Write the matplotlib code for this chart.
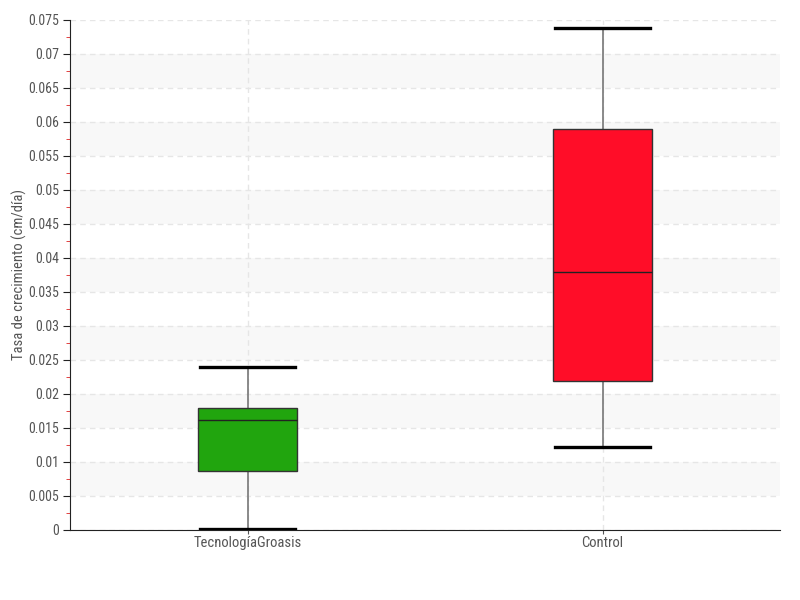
import numpy as np
import matplotlib
matplotlib.use('Agg')
import matplotlib.pyplot as plt
from matplotlib.ticker import MultipleLocator

categories = ['TecnologíaGroasis', 'Control']
whislo = [0.0002, 0.0122]
q1 = [0.0087, 0.0219]
medians = [0.0162, 0.0379]
q3 = [0.0179, 0.0590]
whishi = [0.0240, 0.0738]
colors = ['#21a50e', '#ff0d28']

plt.rcParams['font.family'] = ['Roboto Condensed', 'Roboto', 'DejaVu Sans']

fig = plt.figure(figsize=(8, 6), dpi=100)
ax = fig.add_axes([0.0875, 0.1167, 0.8875, 0.85])

# alternating horizontal bands
for y0 in np.arange(0.005, 0.075, 0.01):
    ax.axhspan(y0, y0 + 0.005, color='#f8f8f8', zorder=0, lw=0)

stats = []
for i, name in enumerate(categories):
    stats.append({'label': name, 'whislo': whislo[i], 'q1': q1[i], 'med': medians[i],
                  'q3': q3[i], 'whishi': whishi[i], 'fliers': []})

bp = ax.bxp(stats, positions=[0, 1], widths=0.28, patch_artist=True, showfliers=False,
            boxprops=dict(edgecolor='#333333', linewidth=1),
            medianprops=dict(color='#222222', linewidth=1),
            whiskerprops=dict(color='#777777', linewidth=1.2),
            capprops=dict(color='black', linewidth=2.4), capwidths=0.27)
for patch, c in zip(bp['boxes'], colors):
    patch.set_facecolor(c)
    patch.set_zorder(3)
for m in bp['medians']:
    m.set_zorder(4)

ax.set_xlim(-0.5, 1.5)
ax.set_ylim(0, 0.075)
ax.yaxis.set_major_locator(MultipleLocator(0.005))
ax.yaxis.set_minor_locator(MultipleLocator(0.0025))
ax.yaxis.set_major_formatter(plt.FuncFormatter(lambda v, p: ('%.3f' % v).rstrip('0').rstrip('.') if v else '0'))
ax.grid(True, which='major', axis='both', linestyle=(0, (4, 3)), color='#e6e6e6', linewidth=1, zorder=1)
ax.set_axisbelow(True)

for s in ['top', 'right']:
    ax.spines[s].set_visible(False)
ax.spines['left'].set_color('#222222')
ax.spines['bottom'].set_color('#222222')

ax.tick_params(axis='y', which='major', length=5, color='#222222', labelcolor='#555555', labelsize=10, pad=3)
ax.tick_params(axis='y', which='minor', length=3, color='#dd2222')
ax.tick_params(axis='x', length=3, color='#555555', labelcolor='#555555', labelsize=10.5, pad=1)

ax.set_ylabel('Tasa de crecimiento (cm/día)', color='#555555', fontsize=10.5)
ax.yaxis.set_label_coords(-0.06, 0.5)

fig.savefig('out.png', dpi=100)
